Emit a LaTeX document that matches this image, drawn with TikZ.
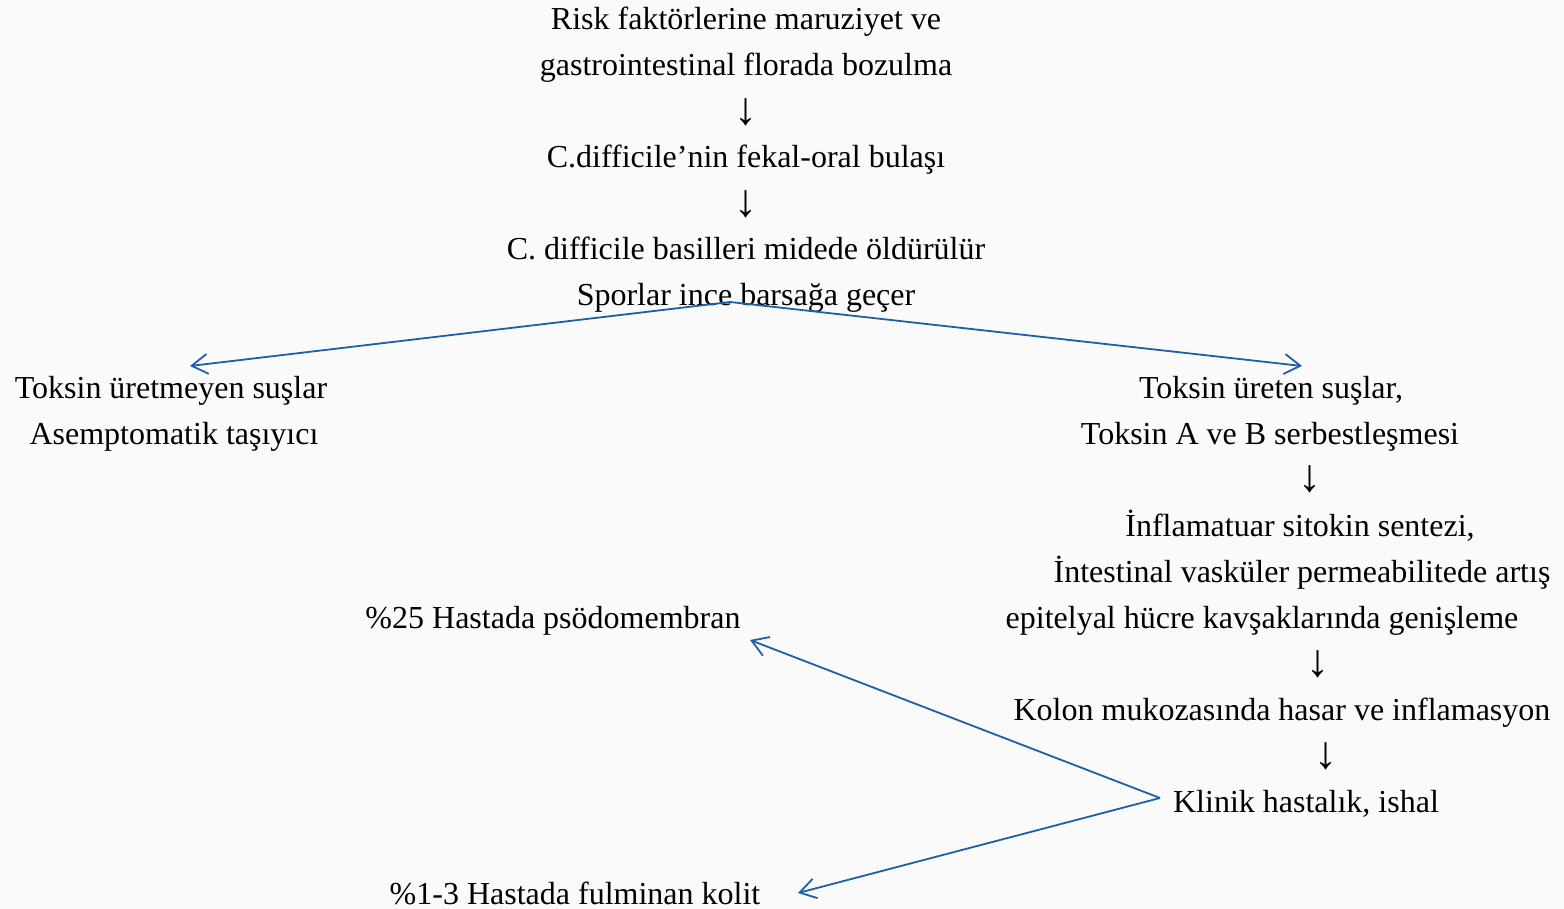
\documentclass[tikz,border=0pt]{standalone}
\usepackage{fontspec}
\setmainfont{Liberation Serif}
\usetikzlibrary{arrows.meta}
\definecolor{arrowblue}{HTML}{1F5FA6}
\definecolor{bgcol}{HTML}{FAFAFA}
\begin{document}
\begin{tikzpicture}[x=1pt,y=-1pt,
  txt/.style={anchor=base, inner sep=0pt, font=\fontsize{32}{38}\selectfont},
  down/.style={anchor=south, inner sep=0pt, font=\fontsize{46}{50}\selectfont},
  conn/.style={draw=arrowblue, line width=1.8pt,
    -{Straight Barb[length=16pt,width=20pt,line width=1.8pt]}}]
\fill[bgcol] (0,0) rectangle (1564,909);
\useasboundingbox (0,0) rectangle (1564,909);
% central column
\node[txt] (r1) at (746,30) {Risk faktörlerine maruziyet ve};
\node[txt] (r2) at (746,76) {gastrointestinal florada bozulma};
\node[down] (d1) at (746,126) {↓};
\node[txt] (t1) at (746,168) {C.difficile’nin fekal-oral bulaşı};
\node[down] (d2) at (746,218) {↓};
\node[txt] (k1) at (746,260) {C. difficile basilleri midede öldürülür};
\node[txt] (k2) at (746,306) {Sporlar ince barsağa geçer};
% left branch
\node[txt] (n1) at (171,398) {Toksin üretmeyen suşlar};
\node[txt] (n2) at (174,444) {Asemptomatik taşıyıcı};
% right branch
\node[txt] (p1) at (1271,398) {Toksin üreten suşlar,};
\node[txt] (p2) at (1270,444) {Toksin A ve B serbestleşmesi};
\node[down] (d3) at (1310,493) {↓};
\node[txt] (i1) at (1300,536) {İnflamatuar sitokin sentezi,};
\node[txt] (i2) at (1302,582) {İntestinal vasküler permeabilitede artış};
\node[txt] (i3) at (1262,628) {epitelyal hücre kavşaklarında genişleme};
\node[down] (d4) at (1318,678) {↓};
\node[txt] (c1) at (1282,720) {Kolon mukozasında hasar ve inflamasyon};
\node[down] (d5) at (1326,770) {↓};
\node[txt] (c2) at (1306,812) {Klinik hastalık, ishal};
% outcomes
\node[txt] (o1) at (553,628) {\%25 Hastada psödomembran};
\node[txt] (o2) at (575,904) {\%1-3 Hastada fulminan kolit};
% connector points
\coordinate (top) at (730,302);
\coordinate (lt) at (190,366);
\coordinate (rt) at (1302,366);
\coordinate (bot) at (1160,798);
\coordinate (ut) at (750,640);
\coordinate (dt) at (798,893);
\draw[conn] (top) -- (lt);
\draw[conn] (top) -- (rt);
\draw[conn] (bot) -- (ut);
\draw[conn] (bot) -- (dt);
\end{tikzpicture}
\end{document}
